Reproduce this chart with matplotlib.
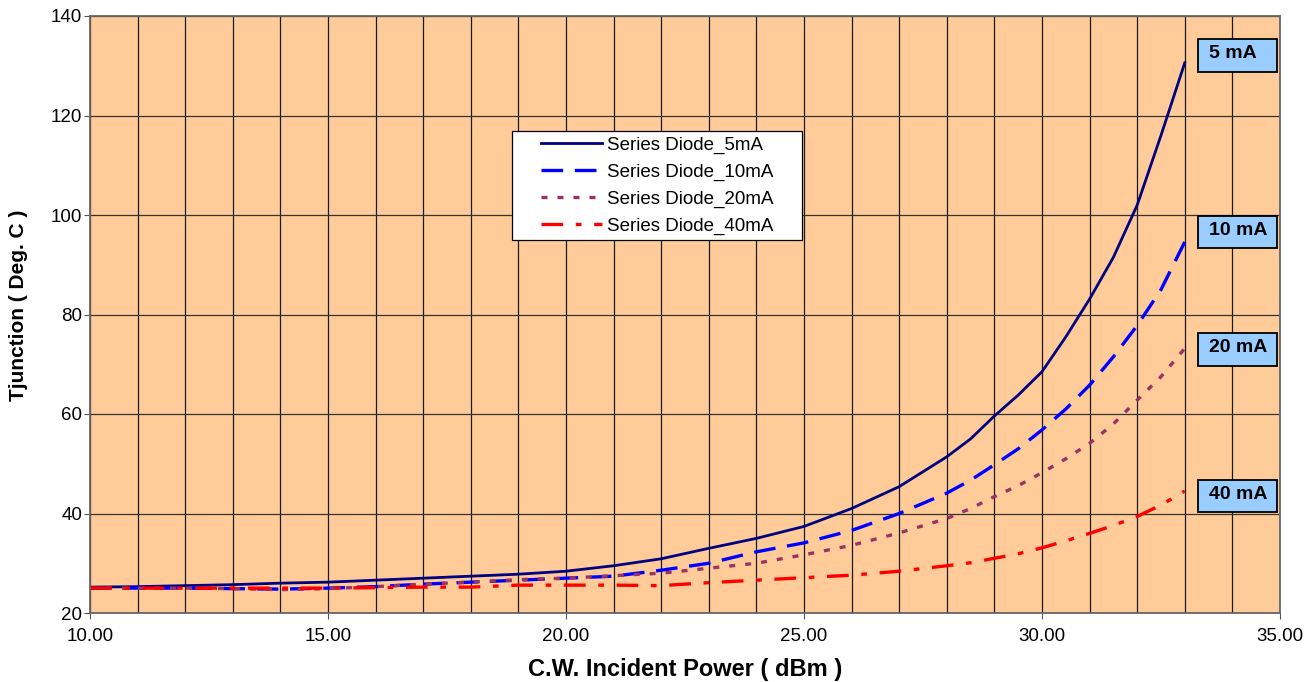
import matplotlib
matplotlib.use("Agg")
import matplotlib.pyplot as plt
from matplotlib.patches import Rectangle
from matplotlib.ticker import MultipleLocator, FormatStrFormatter

plt.rcParams['font.family'] = ['Liberation Sans', 'DejaVu Sans']

# incident power (dBm)
power = [10, 11, 12, 13, 14, 15, 16, 17, 18, 19, 20, 21, 22, 23, 24, 25, 26, 27, 28,
         28.5, 29, 29.5, 30, 30.5, 31, 31.5, 32, 32.5, 33]

t_5ma = [25.2, 25.3, 25.5, 25.7, 26.0, 26.2, 26.6, 27.0, 27.4, 27.8, 28.4, 29.5, 30.9,
         33.0, 35.0, 37.4, 41.0, 45.4, 51.4, 55.0, 59.6, 63.8, 68.5, 75.5, 83.1, 91.5,
         102.0, 116.0, 130.6]
t_10ma = [25.0, 25.0, 25.0, 24.9, 24.8, 25.0, 25.3, 25.8, 26.2, 26.6, 27.0, 27.4, 28.6,
          30.0, 32.3, 34.1, 36.6, 40.0, 44.1, 46.7, 49.8, 53.0, 56.8, 61.0, 65.8, 71.5,
          77.8, 85.0, 94.6]
t_20ma = [25.0, 25.0, 25.0, 24.9, 24.7, 24.9, 25.3, 25.8, 26.2, 26.7, 27.0, 27.5, 28.0,
          29.0, 30.0, 31.7, 33.6, 36.1, 39.0, 41.0, 43.4, 45.6, 48.2, 51.0, 54.1, 58.0,
          62.8, 67.5, 73.2]
t_40ma = [25.0, 25.0, 25.0, 25.0, 25.0, 25.0, 25.1, 25.2, 25.2, 25.6, 25.6, 25.6, 25.5,
          26.1, 26.6, 27.1, 27.6, 28.4, 29.5, 30.1, 31.0, 31.9, 33.1, 34.5, 36.0, 37.6,
          39.4, 41.7, 44.5]

series_names = ["Series Diode_5mA", "Series Diode_10mA", "Series Diode_20mA", "Series Diode_40mA"]
box_labels = ["5 mA", "10 mA", "20 mA", "40 mA"]
box_bottoms = [128.8, 93.3, 69.7, 40.3]

fig = plt.figure(figsize=(13.15, 6.82), dpi=100)
ax = fig.add_axes([90 / 1315, 1 - 613 / 682, 1190 / 1315, 597 / 682])
ax.set_facecolor('#FFCC99')

ax.plot(power, t_5ma, color='#000080', lw=2, label=series_names[0])
ax.plot(power, t_10ma, color='#0000FF', lw=2.4, dashes=(6.5, 3.5), label=series_names[1])
ax.plot(power, t_20ma, color='#993366', lw=2.4, dashes=(1.8, 3.0), label=series_names[2])
ax.plot(power, t_40ma, color='#FF0000', lw=2.4, dashes=(6.5, 3.8, 1.7, 3.8), label=series_names[3])

ax.set_xlim(10, 35)
ax.set_ylim(20, 140)
ax.xaxis.set_major_locator(MultipleLocator(5))
ax.xaxis.set_minor_locator(MultipleLocator(1))
ax.xaxis.set_major_formatter(FormatStrFormatter('%.2f'))
ax.yaxis.set_major_locator(MultipleLocator(20))
ax.grid(True, which='both', axis='x', color='#1a1a1a', lw=0.9)
ax.grid(True, which='major', axis='y', color='#333333', lw=0.9)
ax.set_axisbelow(True)
ax.tick_params(axis='both', which='major', direction='out', length=4.5, color='#555555',
               labelsize=13.5)
ax.tick_params(axis='x', which='minor', length=0)
ax.tick_params(axis='y', pad=1)
ax.tick_params(axis='x', pad=6)
for s in ax.spines.values():
    s.set_color('#666666')
    s.set_linewidth(1.3)

ax.set_xlabel("C.W. Incident Power ( dBm )", fontsize=17, fontweight='bold')
ax.xaxis.label.set_va('center')
ax.xaxis.set_label_coords(0.5, -0.094)
ax.set_ylabel("Tjunction ( Deg. C )", fontsize=15, fontweight='bold')
ax.yaxis.label.set_va('center')
ax.yaxis.set_label_coords(-0.0605, 0.516)

# legend frame drawn by hand to get the wide white box
ax.add_patch(Rectangle((0.355, 0.6248), 0.243, 0.1826, transform=ax.transAxes,
                       facecolor='white', edgecolor='black', lw=0.9, zorder=4.5))
leg = ax.legend(loc='upper left', bbox_to_anchor=(0.379, 0.7975), fontsize=13.5,
                frameon=False, handlelength=3.25, handletextpad=0.27,
                labelspacing=0.51, borderpad=0, borderaxespad=0)
leg.set_zorder(5)

for lab, y0 in zip(box_labels, box_bottoms):
    ax.add_patch(Rectangle((33.27, y0), 1.66, 6.5, facecolor='#99CCFF', edgecolor='black',
                           lw=1.3, zorder=5, clip_on=False))
    ax.text(33.27 + 0.23, y0 + 3.6, lab, fontsize=14, fontweight='bold',
            ha='left', va='center', zorder=6)

fig.savefig("out.png", dpi=100)
